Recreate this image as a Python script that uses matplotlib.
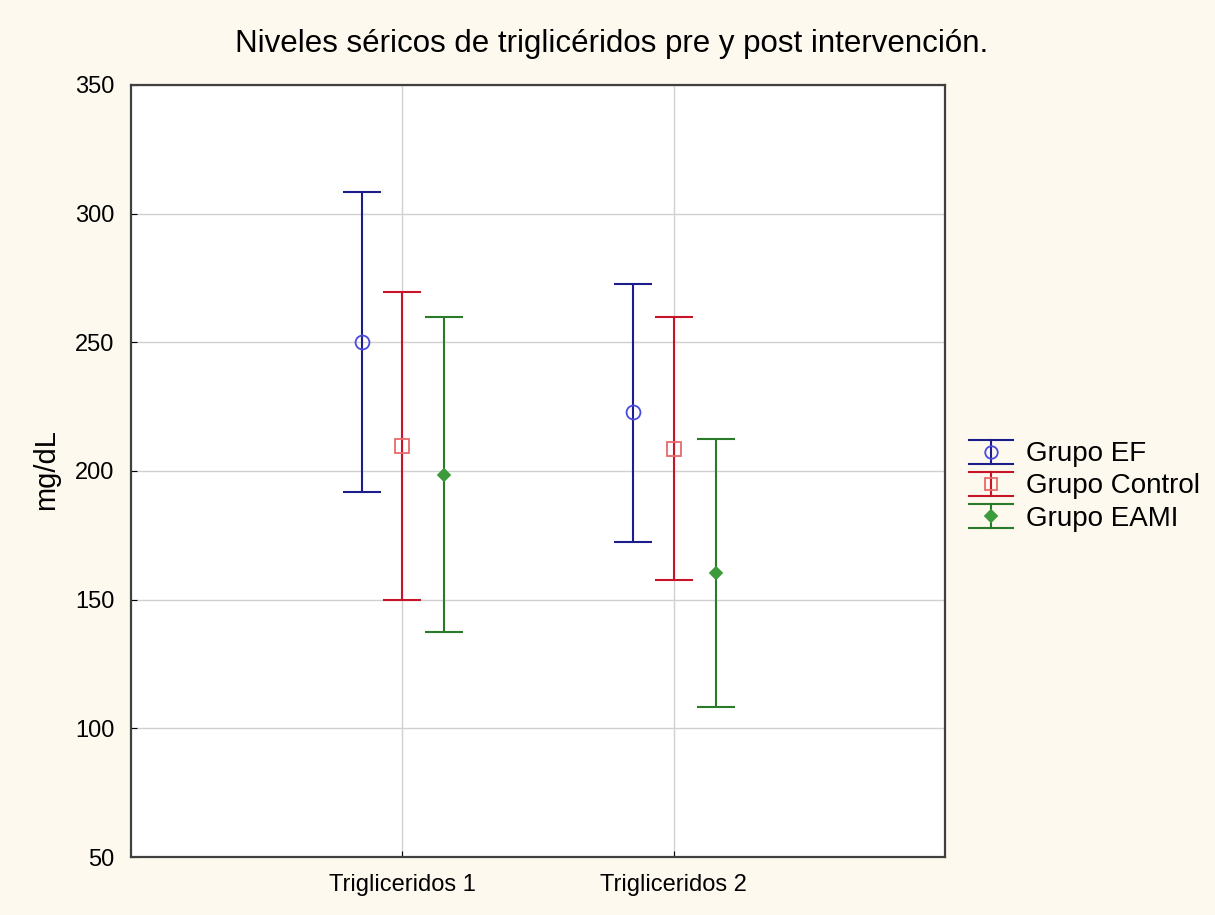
import matplotlib.pyplot as plt
from matplotlib.legend_handler import HandlerBase
from matplotlib.lines import Line2D

plt.rcParams['font.family'] = ['Liberation Sans', 'DejaVu Sans']

# group means and 95% confidence limits (mg/dL)
categories = ["Trigliceridos 1", "Trigliceridos 2"]
groups = ["Grupo EF", "Grupo Control", "Grupo EAMI"]
means = {
    "Grupo EF": [250.0, 223.0],
    "Grupo Control": [209.7, 208.6],
    "Grupo EAMI": [198.5, 160.3],
}
upper = {
    "Grupo EF": [308.4, 272.8],
    "Grupo Control": [269.5, 259.8],
    "Grupo EAMI": [259.8, 212.6],
}
lower = {
    "Grupo EF": [191.7, 172.6],
    "Grupo Control": [150.0, 157.8],
    "Grupo EAMI": [137.3, 108.2],
}

styles = {
    "Grupo EF": dict(line="#1c1c8a", mcolor="#4a4ae0", marker="o", ms=10, mfc="none", offset=-0.15),
    "Grupo Control": dict(line="#c8142a", mcolor="#e86a6a", marker="s", ms=9.5, mfc="none", offset=0.0),
    "Grupo EAMI": dict(line="#2a7a2a", mcolor="#3c9c3c", marker="D", ms=6.5, mfc="#3c9c3c", offset=0.155),
}


class CapHandler(HandlerBase):
    """Legend key: wide caps top and bottom, short bar, marker in the middle."""

    def create_artists(self, legend, orig_handle, xdescent, ydescent,
                       width, height, fontsize, trans):
        st = orig_handle
        x0, x1 = -xdescent, -xdescent + width
        xm = (x0 + x1) / 2
        yb = -ydescent - 0.12 * height
        yt = -ydescent + 1.12 * height
        ym = -ydescent + height / 2
        arts = [
            Line2D([x0, x1], [yt, yt], color=st["line"], lw=1.5),
            Line2D([x0, x1], [yb, yb], color=st["line"], lw=1.5),
            Line2D([xm, xm], [yb, yt], color=st["line"], lw=1.5),
            Line2D([xm], [ym], marker=st["marker"], ms=st["ms"] * 0.9,
                   mec=st["mcolor"], mfc=st["mfc"], mew=1.3, ls="none"),
        ]
        for a in arts:
            a.set_transform(trans)
        return arts


fig = plt.figure(figsize=(12.15, 9.15), dpi=100, facecolor="#fdf9ee")
ax = fig.add_axes([131 / 1215, 1 - 857 / 915, 814 / 1215, 772 / 915])

xs = range(1, len(categories) + 1)
for g in groups:
    st = styles[g]
    x = [i + st["offset"] for i in xs]
    yerr = [[m - lo for m, lo in zip(means[g], lower[g])],
            [hi - m for m, hi in zip(means[g], upper[g])]]
    ax.errorbar(x, means[g], yerr=yerr, fmt="none", ecolor=st["line"],
                elinewidth=1.5, capsize=14, capthick=1.5, zorder=3)
    ax.plot(x, means[g], ls="none", marker=st["marker"], ms=st["ms"],
            mec=st["mcolor"], mfc=st["mfc"], mew=1.3, zorder=4)

ax.set_xlim(0, 3)
ax.set_ylim(50, 350)
ax.set_xticks(list(xs))
ax.set_xticklabels(categories, fontsize=17)
ax.set_yticks(range(50, 351, 50))
ax.tick_params(axis="y", labelsize=17, direction="in", length=4, pad=12)
ax.tick_params(axis="x", direction="in", length=4, pad=12)
ax.grid(True, color="#d0d0d0", lw=1)
ax.set_axisbelow(True)
for sp in ax.spines.values():
    sp.set_color("#404040")
    sp.set_linewidth(1.6)

ax.set_ylabel("mg/dL", fontsize=21)
ax.yaxis.set_label_coords((60 - 131) / 814, (857 - 470) / 772)
fig.text(612 / 1215, 1 - 44 / 915, "Niveles séricos de triglicéridos pre y post intervención.",
         ha="center", va="center", fontsize=22.5)

ax.legend([styles[g] for g in groups], groups,
          handler_map={dict: CapHandler()},
          loc="center left", bbox_to_anchor=((963 - 131) / 814, 0.48),
          frameon=False, fontsize=20, handlelength=1.6,
          handletextpad=0.45, labelspacing=0.22, borderpad=0.2,
          borderaxespad=0)

fig.savefig("out.png", dpi=100, facecolor=fig.get_facecolor())
